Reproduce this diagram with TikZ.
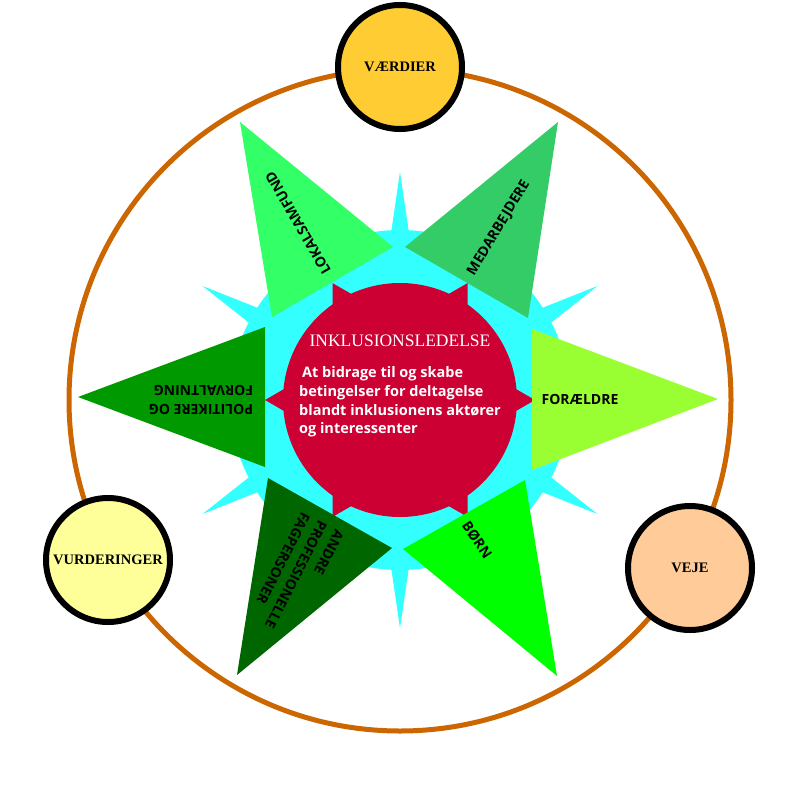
\documentclass[tikz,border=0pt]{standalone}
\usepackage{fontspec}
\setmainfont{Liberation Serif}
\newfontfamily\labfont{Open Sans}
\definecolor{ringc}{HTML}{CC6600}
\definecolor{cyanc}{HTML}{33FFFF}
\definecolor{redc}{HTML}{CC0033}
\definecolor{lokc}{HTML}{33FF66}
\definecolor{medc}{HTML}{33CC66}
\definecolor{polc}{HTML}{009900}
\definecolor{forc}{HTML}{99FF33}
\definecolor{andc}{HTML}{006600}
\definecolor{borc}{HTML}{00FF00}
\definecolor{vaec}{HTML}{FFCC33}
\definecolor{vurc}{HTML}{FFFF99}
\definecolor{vejc}{HTML}{FFCC99}
\tikzset{
  smallcirc/.style={circle, draw=black, line width=6pt, minimum size=124pt, inner sep=0pt,
    font=\bfseries\fontsize{14.5}{18}\selectfont},
  lab/.style={font=\labfont\bfseries\fontsize{14}{19}\selectfont, inner sep=0pt, text=black},
}
\begin{document}
\begin{tikzpicture}[x=1pt, y=-1pt]
\useasboundingbox (0,0) rectangle (800,800);
\fill[white] (0,0) rectangle (800,800);
% orange ring
\draw[ringc, line width=5pt] (400,400) circle[radius=331];
% cyan star
\fill[cyanc] (400,400) circle[radius=170];
\foreach \a in {30,90,150,210,270,330}{
  \fill[cyanc] ({400+160*cos(\a-3.6)},{400-160*sin(\a-3.6)})
    -- ({400+228*cos(\a)},{400-228*sin(\a)})
    -- ({400+160*cos(\a+3.6)},{400-160*sin(\a+3.6)}) -- cycle;
}
% red hexagram + circle
\fill[redc] ({400+135*cos(0)},{400-135*sin(0)}) -- ({400+135*cos(120)},{400-135*sin(120)}) -- ({400+135*cos(240)},{400-135*sin(240)}) -- cycle;
\fill[redc] ({400+135*cos(60)},{400-135*sin(60)}) -- ({400+135*cos(180)},{400-135*sin(180)}) -- ({400+135*cos(300)},{400-135*sin(300)}) -- cycle;
\fill[redc] (400,400) circle[radius=117];
% triangles
\fill[lokc] (240,122) -- (393,247) -- (272,317) -- cycle;
\fill[medc] (558,122) -- (405,247) -- (528,318) -- cycle;
\fill[polc] (78,397) -- (265,327) -- (265,467) -- cycle;
\fill[forc] (718,399) -- (532,329) -- (532,470) -- cycle;
\fill[andc] (268,478) -- (392,548) -- (237,675) -- cycle;
\fill[borc] (525,480) -- (403,549) -- (557,676) -- cycle;
% small circles
\node[smallcirc, fill=vaec] (vaerdier) at (400,67) {VÆRDIER};
\node[smallcirc, fill=vurc] (vurderinger) at (108,560) {VURDERINGER};
\node[smallcirc, fill=vejc] (veje) at (690,568) {VEJE};
% centre texts
\node[text=white, font=\fontsize{17.5}{20}\selectfont, inner sep=0pt] (title) at (400,341) {INKLUSIONSLEDELSE};
\node[text=white, font=\labfont\bfseries\fontsize{14.5}{18.7}\selectfont, align=left, inner sep=0pt] (body) at (400,402)
  {\hspace{3pt}At bidrage til og skabe\\betingelser for deltagelse\\blandt inklusionens aktører\\og interessenter};
% labels
\node[lab, rotate=120] (lokal) at (298,223) {LOKALSAMFUND};
\node[lab, rotate=59] (medarb) at (499,228) {MEDARBEJDERE};
\node[lab] (foraeldre) at (580,399) {FORÆLDRE};
\node[lab, rotate=-56] (boern) at (477,540) {BØRN};
\node[lab, rotate=180, align=left] (politik) at (201,400) {POLITIKERE OG\\FORVALTNING};
\node[lab, rotate=-117, align=left] (andre) at (296,575) {ANDRE\\PROFESSIONELLE\\FAGPERSONER};
\end{tikzpicture}
\end{document}
